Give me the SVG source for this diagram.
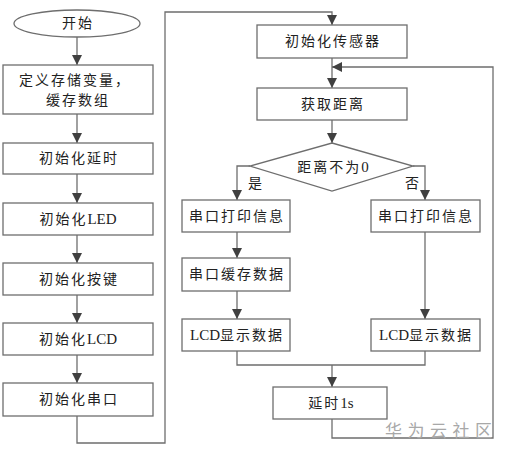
<svg xmlns="http://www.w3.org/2000/svg" width="506" height="455" viewBox="0 0 506 455">
<style>
.n{fill:#fff;stroke:#6e6e6e;stroke-width:1.3}
.t{font-family:"Liberation Serif","Noto Sans CJK SC",serif;font-size:14px;letter-spacing:2px;fill:#222;text-anchor:middle;dominant-baseline:central}
.l{letter-spacing:0;font-size:15px}
.c{fill:none;stroke:#6e6e6e;stroke-width:1.3}
.a{marker-end:url(#ah)}
.w{font-family:"Noto Sans CJK SC",sans-serif;font-size:17px;letter-spacing:5.5px;fill:#a8a8a8}
</style>
<defs>
<marker id="ah" markerUnits="userSpaceOnUse" markerWidth="12" markerHeight="12" viewBox="0 0 12 12" refX="11" refY="6" orient="auto">
<path d="M1,1 L11,6 L1,11 Z" fill="#404040"/>
</marker>
</defs>
<rect width="506" height="455" fill="#fff"/>
<g id="connectors">
<line class="c a" x1="77" y1="37" x2="77" y2="65"/>
<line class="c a" x1="77" y1="114" x2="77" y2="143"/>
<line class="c a" x1="77" y1="174" x2="77" y2="203"/>
<line class="c a" x1="77" y1="235" x2="77" y2="263"/>
<line class="c a" x1="77" y1="295" x2="77" y2="323"/>
<line class="c a" x1="77" y1="355" x2="77" y2="383"/>
<path class="c a" d="M77,416 V443 H165 V12 H332 V25"/>
<line class="c a" x1="332" y1="58" x2="332" y2="88"/>
<path class="c a" d="M332,419 V438 H493 V67 H332"/>
<line class="c a" x1="332" y1="120" x2="332" y2="143"/>
<path class="c a" d="M250,166 H237 V200"/>
<path class="c a" d="M413,166 H425 V200"/>
<line class="c a" x1="237" y1="232" x2="237" y2="258"/>
<line class="c a" x1="237" y1="291" x2="237" y2="319"/>
<line class="c a" x1="425" y1="232" x2="425" y2="319"/>
<path class="c" d="M237,351 V365 H425 V351"/>
<line class="c a" x1="332" y1="365" x2="332" y2="387"/>
</g>
<g id="start"><ellipse class="n" cx="77" cy="23.5" rx="63" ry="13.5"/><text class="t" x="78" y="23.5">开始</text></g>
<g id="define"><rect class="n" x="3" y="65" width="150" height="49"/><text class="t" x="75" y="80">定义存储变量，</text><text class="t" x="78" y="100">缓存数组</text></g>
<g id="initDelay"><rect class="n" x="3" y="143" width="150" height="31"/><text class="t" x="79" y="158.5">初始化延时</text></g>
<g id="initLED"><rect class="n" x="3" y="203" width="150" height="32"/><text class="t" x="78" y="219">初始化<tspan class="l">LED</tspan></text></g>
<g id="initKey"><rect class="n" x="3" y="263" width="150" height="32"/><text class="t" x="79" y="279">初始化按键</text></g>
<g id="initLCD"><rect class="n" x="3" y="323" width="150" height="32"/><text class="t" x="78" y="339">初始化<tspan class="l">LCD</tspan></text></g>
<g id="initUART"><rect class="n" x="3" y="383" width="150" height="33"/><text class="t" x="79" y="399.5">初始化串口</text></g>
<g id="initSensor"><rect class="n" x="257" y="25" width="150" height="33"/><text class="t" x="333" y="41.5">初始化传感器</text></g>
<g id="getDist"><rect class="n" x="257" y="88" width="150" height="32"/><text class="t" x="333" y="104">获取距离</text></g>
<g id="decision"><polygon class="n" points="332,143 413,166 332,191 250,166"/><text class="t" x="333" y="167">距离不为<tspan class="l">0</tspan></text></g>
<g id="yesLabel"><text class="t" x="256" y="183">是</text></g>
<g id="noLabel"><text class="t" x="413" y="183">否</text></g>
<g id="printL"><rect class="n" x="182" y="200" width="108" height="32"/><text class="t" x="237" y="216">串口打印信息</text></g>
<g id="bufL"><rect class="n" x="182" y="258" width="108" height="33"/><text class="t" x="237" y="274.5">串口缓存数据</text></g>
<g id="lcdL"><rect class="n" x="182" y="319" width="108" height="32"/><text class="t" x="237" y="335"><tspan class="l">LCD</tspan>显示数据</text></g>
<g id="printR"><rect class="n" x="371" y="200" width="109" height="32"/><text class="t" x="426" y="216">串口打印信息</text></g>
<g id="lcdR"><rect class="n" x="371" y="319" width="109" height="32"/><text class="t" x="426" y="335"><tspan class="l">LCD</tspan>显示数据</text></g>
<g id="delay1s"><rect class="n" x="273" y="387" width="114" height="32"/><text class="t" x="331" y="403">延时<tspan class="l">1s</tspan></text></g>
<text class="w" x="385" y="437">华为云社区</text>
</svg>
